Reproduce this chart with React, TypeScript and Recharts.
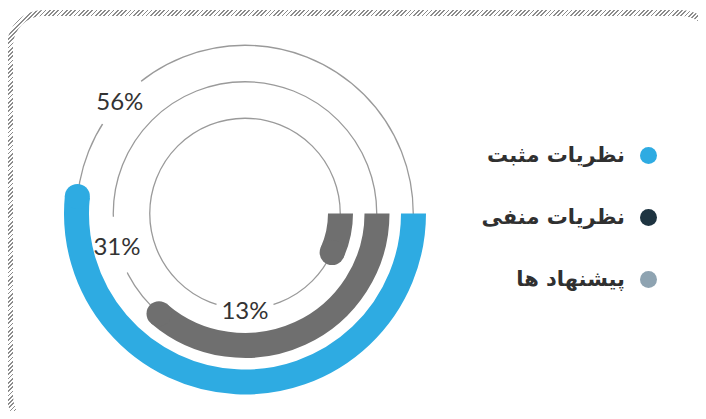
import React from 'react'
import { RadialBarChart, RadialBar, PolarAngleAxis, PolarGrid, Cell, LabelList, Legend } from 'recharts'

// rings, from the innermost outwards
const labels = ['13%', '31%', '56%']
const arcValues = [8.8, 37.8, 52.8]
const ringColors = ['#6f6f6f', '#6f6f6f', '#2eabe2']

const legendNames = ['نظریات مثبت', 'نظریات منفی', 'پیشنهاد ها']
const legendColors = ['#2eabe2', '#1e3441', '#8ea3b1']

const data = labels.map((label, i) => ({ label, value: arcValues[i] }))

const W = 706
const H = 419
const CX = 245
const CY = 213.5
const INNER = 77
const OUTER = 186.5
const BAR = 25
const band = (OUTER - INNER) / labels.length
const trackRadii = labels.map((_, i) => INNER + band * (i + 0.5))
// where each percentage sits on its track (recharts angles, degrees)
const labelAngles = [-90, -166, -222]
const GAP_HALF = 29

const RAD = Math.PI / 180
const polar = (cx: number, cy: number, r: number, a: number) => [cx + r * Math.cos(-a * RAD), cy + r * Math.sin(-a * RAD)]

// flat start, round end
function ArcShape(p: any) {
  const { cx, cy, innerRadius, outerRadius, startAngle, endAngle, fill } = p
  const w = outerRadius - innerRadius
  const r = (innerRadius + outerRadius) / 2
  const dir = endAngle < startAngle ? -1 : 1
  const cap = (w / 2 / r) / RAD
  let end = endAngle - dir * cap
  if ((end - startAngle) * dir < 0) end = startAngle
  const [x0, y0] = polar(cx, cy, r, startAngle)
  const [x1, y1] = polar(cx, cy, r, end)
  const large = Math.abs(end - startAngle) > 180 ? 1 : 0
  const sweep = dir < 0 ? 1 : 0
  return (
    <g>
      <path d={`M${x0},${y0} A${r},${r} 0 ${large} ${sweep} ${x1},${y1}`} stroke={fill} strokeWidth={w} fill="none" />
      <circle cx={x1} cy={y1} r={w / 2} fill={fill} />
    </g>
  )
}

function renderLabel(props: any) {
  const { viewBox, index, value } = props
  const cx = viewBox?.cx ?? CX
  const cy = viewBox?.cy ?? CY
  const r = viewBox && viewBox.innerRadius != null ? (viewBox.innerRadius + viewBox.outerRadius) / 2 : trackRadii[index]
  const a = labelAngles[index]
  const half = GAP_HALF / r / RAD
  const [gx0, gy0] = polar(cx, cy, r, a + half)
  const [gx1, gy1] = polar(cx, cy, r, a - half)
  const [x, y] = polar(cx, cy, r, a)
  return (
    <g>
      <path d={`M${gx0},${gy0} A${r},${r} 0 0 1 ${gx1},${gy1}`} stroke="#fff" strokeWidth={5} fill="none" />
      <text
        x={x}
        y={y}
        textAnchor="middle"
        dominantBaseline="central"
        fontFamily="Lato, sans-serif"
        fontSize={24}
        fill="#333"
      >
        {value}
      </text>
    </g>
  )
}

function LegendBox() {
  return (
    <div style={{ display: 'flex', flexDirection: 'column' }}>
      {legendNames.map((name, i) => (
        <div key={name} style={{ height: 62, display: 'flex', alignItems: 'center', justifyContent: 'flex-end' }}>
          <span style={{ fontFamily: '"DejaVu Sans", sans-serif', fontWeight: 700, fontSize: 21, color: '#303030', direction: 'rtl' }}>{name}</span>
          <span style={{ width: 17, height: 17, borderRadius: '50%', background: legendColors[i], marginLeft: 15 }} />
        </div>
      ))}
    </div>
  )
}

export default function App() {
  return (
    <div style={{ position: 'relative', width: W, height: H, margin: -8, overflow: 'hidden', background: '#fff' }}>
      <div
        style={{
          position: 'absolute', left: 7, top: 10, width: W + 4, height: H + 3, borderRadius: 36,
          background: 'repeating-linear-gradient(135deg, #8c8c8c 0 1.2px, #fff 1.2px 3px)',
        }}
      >
        <div style={{ position: 'absolute', inset: 6, borderRadius: 30, background: '#fff' }} />
      </div>
      <div style={{ position: 'absolute', left: 0, top: 0 }}>
        <RadialBarChart
          width={W}
          height={H}
          cx={CX}
          cy={CY}
          innerRadius={INNER}
          outerRadius={OUTER}
          barSize={BAR}
          data={data}
          startAngle={0}
          endAngle={-360}
        >
          <PolarAngleAxis type="number" domain={[0, 100]} tick={false} axisLine={false} />
          <PolarGrid gridType="circle" radialLines={false} polarRadius={trackRadii} stroke="#9a9a9a" strokeWidth={1.3} />
          <RadialBar dataKey="value" isAnimationActive={false} shape={ArcShape}>
            {data.map((d, i) => (
              <Cell key={d.label} fill={ringColors[i]} />
            ))}
            <LabelList dataKey="label" content={renderLabel} />
          </RadialBar>
          <Legend content={() => <LegendBox />} wrapperStyle={{ left: 440, top: 124, width: 217, right: 'auto', bottom: 'auto' }} />
        </RadialBarChart>
      </div>
    </div>
  )
}
